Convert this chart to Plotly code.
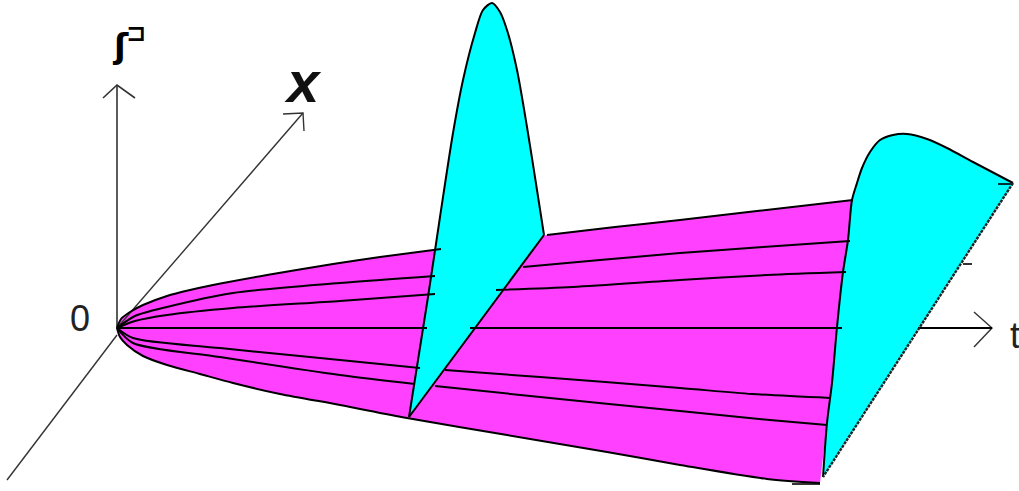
import plotly.graph_objects as go

# --- values (picture units, y grows downward) ---
upper_x = [117, 121, 130, 143, 167, 190, 213, 267, 333, 380, 441, None, 547, 615, 680, 757, 853]
upper_y = [328, 319, 312, 305, 296, 290, 285, 275, 264, 257, 249, None, 235, 227, 220, 211, 200]
line2_x = [117, 135, 167, 233, 340, 435, None, 523, 600, 680, 763, 850]
line2_y = [328, 316, 307, 293, 283, 276, None, 267, 260, 253, 247, 241]
line3_x = [117, 135, 167, 233, 340, 435, None, 496, 573, 680, 767, 846]
line3_y = [328, 321, 315, 308, 301, 294, None, 290, 287, 280, 275, 272]
middle_x = [117, 427, None, 470, 842, None, 918, 992]
middle_y = [328, 328, None, 328, 328, None, 328, 328]
line5_x = [117, 133, 220, 340, 420, None, 445, 540, 680, 752, 830]
line5_y = [328, 338, 348, 360, 368, None, 370, 377, 388, 394, 398]
line6_x = [117, 133, 220, 340, 415, None, 435, 540, 680, 770, 827]
line6_y = [328, 343, 357, 375, 384, None, 386, 397, 411, 420, 425]
lower_x = [117, 120, 127, 143, 167, 200, 233, 280, 340, 407, 507, 607, 680, 767, 820]
lower_y = [328, 337, 345, 356, 365, 374, 383, 394, 405, 418, 435, 452, 465, 479, 483]

sheet_x = [117, 121, 130, 143, 167, 190, 213, 267, 333, 380, 441, 547, 615, 680, 757, 853,
           820, 767, 680, 607, 507, 407, 340, 280, 233, 200, 167, 143, 127, 120]
sheet_y = [328, 319, 312, 305, 296, 290, 285, 275, 264, 257, 249, 235, 227, 220, 211, 200,
           483, 479, 465, 452, 435, 418, 405, 394, 383, 374, 365, 356, 345, 337]

peak1_x = [409, 428, 440, 453, 463, 475, 483, 492, 500, 507, 517, 527, 537, 544]
peak1_y = [417, 297, 217, 133, 80, 33, 10, 3, 12, 30, 70, 127, 190, 235]
peak1_base_x = [544, 409]
peak1_base_y = [235, 417]
peak2_x = [823, 827, 832, 837, 843, 848, 852, 857, 862, 870, 880, 893, 907, 927, 947, 973, 1013]
peak2_y = [477, 423, 383, 327, 272, 240, 200, 183, 168, 152, 140, 135, 134, 139, 148, 162, 183]
peak2_base_x = [1013, 823]
peak2_base_y = [183, 477]

axis_up_x = [117, 117, None, 103, 117, 135]
axis_up_y = [328, 85, None, 98, 85, 98]
axis_x_x = [7, 117, None, 117, 303, None, 283, 303, 304]
axis_x_y = [480, 335, None, 328, 113, None, 114, 113, 131]
arrow_t_x = [974, 992, 974]
arrow_t_y = [312, 328, 347]
ticks_x = [998, 1013, None, 963, 972, None, 792, 820]
ticks_y = [184, 184, None, 264, 264, None, 484, 484]

MAGENTA = "#FF40FF"
CYAN = "#00FFFF"
INK = "#000000"
AXIS = "#333333"


def add_line(fig, xs, ys, color=INK, width=2, dash="solid", shape="linear"):
    fig.add_trace(go.Scatter(x=xs, y=ys, mode="lines",
                             line=dict(color=color, width=width, dash=dash, shape=shape, smoothing=0.8),
                             hoverinfo="skip", showlegend=False))


def add_fill(fig, xs, ys, color, shape="linear"):
    fig.add_trace(go.Scatter(x=xs, y=ys, mode="lines", fill="toself", fillcolor=color,
                             line=dict(color=color, width=0, shape=shape, smoothing=0.8),
                             hoverinfo="skip", showlegend=False))


fig = go.Figure()
add_fill(fig, sheet_x, sheet_y, MAGENTA)
add_line(fig, axis_up_x, axis_up_y, AXIS, 1.6)
add_line(fig, axis_x_x, axis_x_y, AXIS, 1.4)
add_line(fig, arrow_t_x, arrow_t_y, AXIS, 1.4)

add_fill(fig, peak1_x, peak1_y, CYAN, "spline")
add_fill(fig, peak2_x, peak2_y, CYAN, "spline")

for xs, ys in [(upper_x, upper_y), (line2_x, line2_y), (line3_x, line3_y),
               (line5_x, line5_y), (line6_x, line6_y), (lower_x, lower_y), (peak1_x, peak1_y), (peak2_x, peak2_y)]:
    add_line(fig, xs, ys, shape="spline")
add_line(fig, middle_x, middle_y, width=1.8)
add_line(fig, ticks_x, ticks_y, width=1.6)
add_line(fig, peak1_base_x, peak1_base_y)
add_line(fig, peak2_base_x, peak2_base_y, "#222222", 2.4, "3px,1px")

fig.add_annotation(x=80, y=318, text="0", font=dict(family="Liberation Sans", size=36, color="#222222"))
fig.add_annotation(x=1015, y=335, text="t", font=dict(family="Liberation Sans", size=36, color="#222222"))
fig.add_annotation(x=303, y=81, text="<b><i>x</i></b>", font=dict(family="Liberation Sans", size=58, color="#111111"))
fig.add_annotation(x=120, y=46, text="<b>ʃ</b>", font=dict(family="DejaVu Sans", size=34, color="#000000"))
fig.add_annotation(x=136, y=33, text="<b>⊐</b>", font=dict(family="DejaVu Sans", size=24, color="#000000"))

fig.update_annotations(showarrow=False, xanchor="center", yanchor="middle")
fig.update_xaxes(range=[0, 1019], visible=False, fixedrange=True)
fig.update_yaxes(range=[491, 0], visible=False, fixedrange=True)
fig.update_layout(width=1019, height=491, margin=dict(l=0, r=0, t=0, b=0),
                  paper_bgcolor="white", plot_bgcolor="white", showlegend=False)

fig.write_html("out.html", config={"displayModeBar": False},
               post_script="document.body.style.margin='0';document.body.style.overflow='hidden';")
